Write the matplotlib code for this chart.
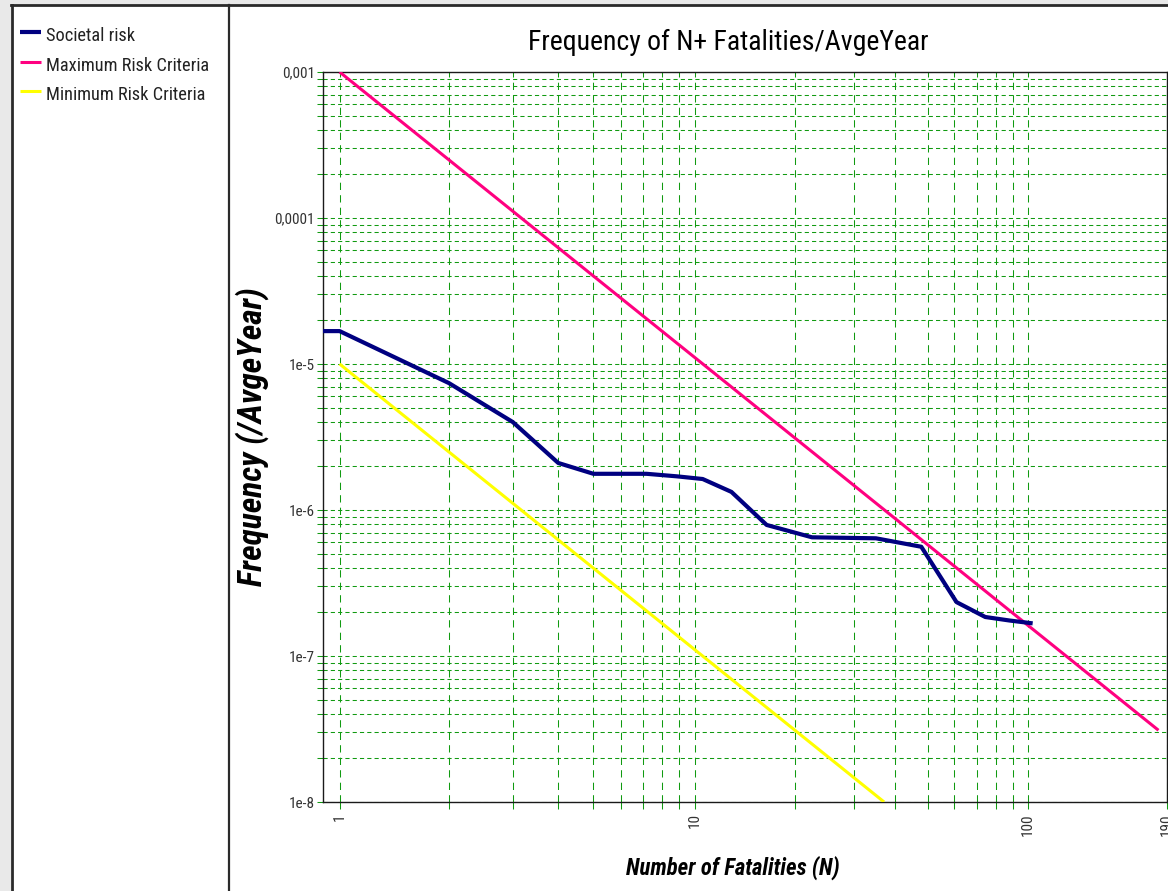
import matplotlib
matplotlib.use('Agg')
import matplotlib.pyplot as plt
from matplotlib.lines import Line2D
from matplotlib.patches import Rectangle
from matplotlib.ticker import FixedLocator, FixedFormatter, LogLocator, NullFormatter
from matplotlib import font_manager
from matplotlib.font_manager import FontProperties

# ---------------- data ----------------
societal_N = [0.9, 1, 2, 3, 4, 5, 7, 8.5, 10, 12, 15, 20, 30, 40, 50, 60, 70, 80]
societal_F = [1.68e-5, 1.68e-5, 7.4e-6, 4.0e-6, 2.1e-6, 1.77e-6, 1.77e-6, 1.70e-6,
              1.63e-6, 1.33e-6, 7.9e-7, 6.5e-7, 6.4e-7, 5.6e-7, 2.34e-7, 1.85e-7,
              1.75e-7, 1.68e-7]
max_N = [1, 180]
max_F = [1e-3, 3.1e-8]
min_N = [1, 31.6]
min_F = [1e-5, 1e-8]

series_labels = ['Societal risk', 'Maximum Risk Criteria', 'Minimum Risk Criteria']

# x gridline / tick positions as drawn in the reference
x_major_ticks = [1, 9.5, 78.6, 190]
x_major_labels = ['1', '10', '100', '190']
x_minor_ticks = [2, 3, 4, 5, 5.94, 6.83, 7.71, 8.59, 17.9, 26.1, 33.8, 41.7,
                 49.1, 56.8, 64.2, 71.5]
y_major_ticks = [1e-8, 1e-7, 1e-6, 1e-5, 1e-4, 1e-3]
y_major_labels = ['1e-8', '1e-7', '1e-6', '1e-5', '0,0001', '0,001']

title_text = 'Frequency of N+ Fatalities/AvgeYear'
xlabel_text = 'Number of Fatalities (N)'
ylabel_text = 'Frequency (/AvgeYear)'

# ---------------- font selection (prefer a narrow face of regular weight) ----------------
WD = font_manager.weight_dict

def _wnum(w):
    try:
        return int(w)
    except (TypeError, ValueError):
        return WD.get(str(w).lower(), 400)

def _is_cond(e):
    st = str(e.stretch).lower()
    nm = e.name.lower()
    return ('condensed' in st and 'semi' not in st) or 'narrow' in nm or 'condensed' in nm

def _find(family, bold, italic):
    target = 700 if bold else 400
    best, bestd = None, None
    for e in font_manager.fontManager.ttflist:
        if e.name != family or not _is_cond(e):
            continue
        if (e.style in ('italic', 'oblique')) != italic:
            continue
        d = abs(_wnum(e.weight) - target)
        if d <= 100 and (bestd is None or d < bestd):
            best, bestd = e.fname, d
    return best

families = ['Liberation Sans Narrow', 'Arial Narrow', 'Roboto Condensed', 'Noto Sans',
            'Noto Sans Condensed', 'Open Sans', 'Open Sans Condensed', 'Roboto', 'Lato',
            'DejaVu Sans']
REG = None
for fam in families:
    REG = _find(fam, False, False)
    if REG:
        break
BI = None
for fam in families:
    BI = _find(fam, True, True)
    if BI:
        break

def fp_reg(size):
    if REG:
        return FontProperties(fname=REG, size=size)
    return FontProperties(family='Liberation Sans', size=size)

def fp_bi(size):
    if BI:
        return FontProperties(fname=BI, size=size)
    return FontProperties(family='Liberation Sans', weight='bold', style='italic', size=size)

# ---------------- styling ----------------
C_SOC = '#000080'
C_MAX = '#ff0080'
C_MIN = '#ffff00'
C_GRID = '#119a11'
C_TICKLBL = '#333333'

W, H = 1168, 891
fig = plt.figure(figsize=(W / 100, H / 100), dpi=100)
fig.patch.set_facecolor('#e9e9e9')

def fx(px):
    return px / W

def fy(py):
    return 1 - py / H

# white panel + borders
fig.add_artist(Rectangle((fx(11), 0), 1 - fx(11), fy(5), transform=fig.transFigure,
                         facecolor='white', edgecolor='none', zorder=0))
fig.add_artist(Line2D([fx(11), 1], [fy(5), fy(5)], transform=fig.transFigure,
                      color='#2a2a2a', lw=2.0))
fig.add_artist(Line2D([fx(12), fx(12)], [0, fy(5)], transform=fig.transFigure,
                      color='#2a2a2a', lw=2.0))
fig.add_artist(Line2D([fx(229), fx(229)], [0, fy(5)], transform=fig.transFigure,
                      color='#2a2a2a', lw=1.6))

# axes
ax = fig.add_axes([fx(323), fy(802), fx(1167) - fx(323), fy(72) - fy(802)])
ax.set_facecolor('white')
ax.set_xscale('log')
ax.set_yscale('log')
ax.set_xlim(0.9, 190)
ax.set_ylim(1e-8, 1e-3)

ax.plot(max_N, max_F, color=C_MAX, lw=2.2, solid_capstyle='butt', zorder=3)
ax.plot(min_N, min_F, color=C_MIN, lw=2.2, solid_capstyle='butt', zorder=3)
ax.plot(societal_N, societal_F, color=C_SOC, lw=3.0, solid_joinstyle='round', zorder=4)

ax.xaxis.set_major_locator(FixedLocator(x_major_ticks))
ax.xaxis.set_major_formatter(FixedFormatter(x_major_labels))
ax.xaxis.set_minor_locator(FixedLocator(x_minor_ticks))
ax.xaxis.set_minor_formatter(NullFormatter())
ax.yaxis.set_major_locator(FixedLocator(y_major_ticks))
ax.yaxis.set_major_formatter(FixedFormatter(y_major_labels))
ax.yaxis.set_minor_locator(LogLocator(base=10, subs=range(2, 10), numticks=20))
ax.yaxis.set_minor_formatter(NullFormatter())

ax.set_axisbelow(True)
ax.grid(True, which='both', axis='y', color=C_GRID, lw=0.75, linestyle=(0, (4, 3)))
ax.grid(True, which='both', axis='x', color=C_GRID, lw=0.75, linestyle=(0, (7, 5)))

ax.tick_params(axis='both', which='both', direction='out', color=C_GRID, width=0.75)
ax.tick_params(axis='y', which='both', length=4, pad=2, labelcolor=C_TICKLBL)
ax.tick_params(axis='x', which='both', length=5, pad=3, labelcolor=C_TICKLBL,
               labelrotation=90)
for lbl in ax.get_xticklabels() + ax.get_yticklabels():
    lbl.set_fontproperties(fp_reg(11))

for sp in ax.spines.values():
    sp.set_color('#1a1a1a')
    sp.set_linewidth(1.0)

# titles / labels
t_title = fig.text(fx(728), fy(50), title_text, ha='center', va='baseline',
                   fontproperties=fp_reg(21), color='black')
t_xlab = fig.text(fx(733), fy(875), xlabel_text, ha='center', va='baseline',
                  fontproperties=fp_bi(16), color='black')
t_ylab = fig.text(fx(252), fy(437), ylabel_text, ha='center', va='center', rotation=90,
                  fontproperties=fp_bi(22), color='black')

# legend panel
leg_colors = [C_SOC, C_MAX, C_MIN]
leg_lw = [3.0, 2.2, 2.2]
leg_y = [32, 62, 91]
leg_texts = []
for lab, col, lw, y in zip(series_labels, leg_colors, leg_lw, leg_y):
    fig.add_artist(Line2D([fx(20), fx(41)], [fy(y), fy(y)], transform=fig.transFigure,
                          color=col, lw=lw, solid_capstyle='butt'))
    leg_texts.append(fig.text(fx(46), fy(y + 9), lab, ha='left', va='baseline',
                              fontproperties=fp_reg(14), color='#222222'))

# ---------------- scale text so its extent matches the reference ----------------
fig.canvas.draw()
rend = fig.canvas.get_renderer()

def fit(t, target_px, vertical=False, max_size=None):
    bb = t.get_window_extent(renderer=rend)
    cur = bb.height if vertical else bb.width
    new = t.get_fontsize() * target_px / cur
    if max_size is not None:
        new = min(new, max_size)
    t.set_fontsize(new)

fit(t_title, 400, max_size=21.5)
fit(t_xlab, 214, max_size=16.5)
fit(t_ylab, 312, vertical=True, max_size=24)
fit(leg_texts[1], 164, max_size=14.5)
for t in leg_texts:
    t.set_fontsize(leg_texts[1].get_fontsize())

# tick labels: match the width of '0,001'
ylbls = ax.get_yticklabels()
ref = [l for l in ylbls if l.get_text() == '0,001']
if ref:
    w = ref[0].get_window_extent(renderer=rend).width
    size = min(11.0, ref[0].get_fontsize() * 33.0 / w)
    for lbl in ax.get_xticklabels() + ax.get_yticklabels():
        lbl.set_fontsize(size)

fig.savefig('out.png', dpi=100, facecolor=fig.get_facecolor())
